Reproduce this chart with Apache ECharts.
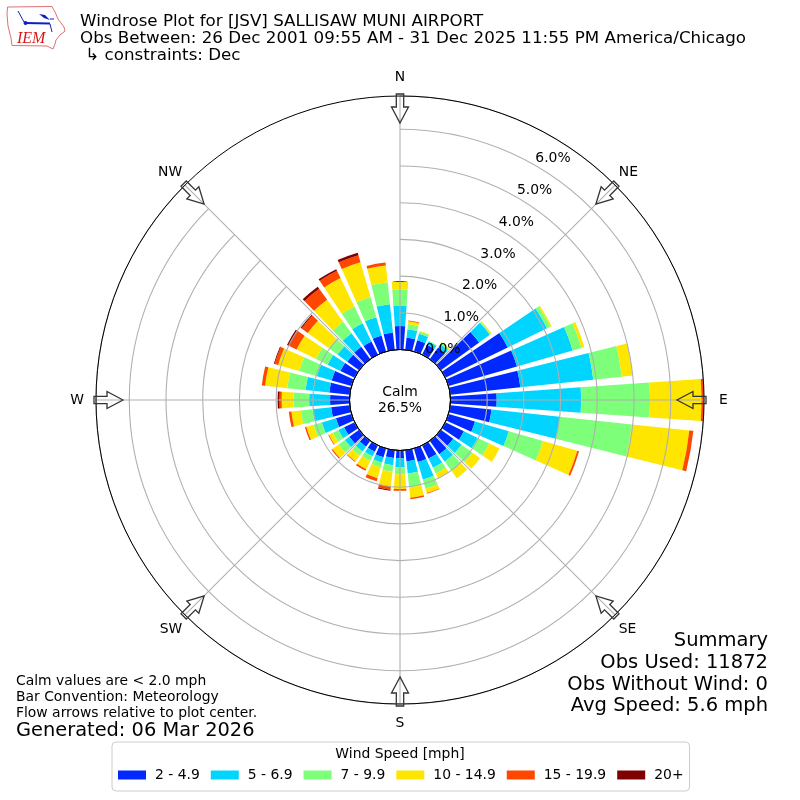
<!DOCTYPE html>
<html><head><meta charset="utf-8">
<style>html,body{margin:0;padding:0;background:#fff}#c{width:800px;height:800px}</style>
<script src="https://cdn.jsdelivr.net/npm/echarts@6/dist/echarts.min.js"></script>
</head><body><div id="c"></div>
<script>
// Bearings 0,10,...,350
const directions = ['0','10','20','30','40','50','60','70','80','90','100','110','120','130','140','150','160','170','180','190','200','210','220','230','240','250','260','270','280','290','300','310','320','330','340','350'];
const speed2to5   = [.64,.33,.32,.30,.39,1.29,1.89,1.94,1.92,1.26,1.13,.75,.56,.42,.45,.40,.38,.30,.21,.21,.25,.19,.20,.33,.32,.44,.51,.53,.56,.56,.43,.40,.42,.40,.45,.47];
const speed5to7   = [.55,.23,.18,.10,.11,.36,1.19,1.58,2.00,2.30,1.87,.96,.42,.28,.25,.28,.50,.34,.25,.20,.15,.14,.16,.15,.17,.40,.51,.57,.65,.42,.39,.33,.45,.55,.52,.78];
const speed7to10  = [.45,.14,.06,.02,.05,.03,.10,.25,.78,1.88,1.98,.97,.35,.37,.31,.17,.26,.38,.19,.18,.13,.14,.13,.21,.17,.24,.32,.43,.50,.50,.35,.30,.39,.51,.57,.60];
const speed10to15 = [.21,.08,.02,0,.02,.03,.04,.08,.30,1.40,1.57,.97,.31,.25,.25,.15,.12,.28,.40,.40,.31,.25,.20,.21,.12,.20,.26,.32,.61,.60,.59,.70,.74,.86,.99,.46];
const speed15to20 = [0,.02,0,0,0,0,0,0,0,.06,.11,.05,0,0,0,0,.02,.04,.05,.09,.09,.05,.02,.03,.02,.04,.07,.06,.09,.10,.22,.21,.37,.22,.20,.08];
const speed20plus = [0,0,0,0,0,0,0,0,0,.01,0,0,0,0,0,0,0,0,0,.03,0,0,0,0,0,0,0,.05,0,.02,.07,.03,.07,.05,.07,0];
const speedNames = ['2 - 4.9','5 - 6.9','7 - 9.9','10 - 14.9','15 - 19.9','20+'];
const speedColors = ['#0028ff','#00d4ff','#7dff7a','#ffe600','#ff4700','#7f0000'];
const compass = ['N','NE','E','SE','S','SW','W','NW'];
const compassPadding = [[0,0,8,0],[0,0,3,1],[0,0,0,11],[4.5,0,0,1],[8,0,0,0],[5,0,0,0],[0,8,0,0],[0,0,3,0]];
const radialMax = 6.907;
const titleLines = 'Windrose Plot for [JSV] SALLISAW MUNI AIRPORT\nObs Between: 26 Dec 2001 09:55 AM - 31 Dec 2025 11:55 PM America/Chicago\n \u21B3 constraints: Dec';
const summaryLines = 'Summary\nObs Used: 11872\nObs Without Wind: 0\nAvg Speed: 5.6 mph';
const noteLines = 'Calm values are < 2.0 mph\nBar Convention: Meteorology\nFlow arrows relative to plot center.';
const font = 'DejaVu Sans';
const speedSeries = [speed2to5,speed5to7,speed7to10,speed10to15,speed15to20,speed20plus];
const cx=400, cy=400, rIn=50.5, rOut=304;

function arrow(bearing){
  const a=bearing*Math.PI/180, ux=Math.sin(a), uy=-Math.cos(a), px=-uy, py=ux;
  const P=(r,s)=>[cx+ux*r+px*s, cy+uy*r+py*s];
  return {type:'polygon',z:30,shape:{points:[P(277,0),P(293,8.5),P(293,3.7),P(306,3.7),P(306,-3.7),P(293,-3.7),P(293,-8.5)]},
    style:{fill:'none',stroke:'#333',lineWidth:1.3}};
}
const logo = [
 {type:'polyline',z:30,shape:{points:[[7.5,7],[52,6.5],[55,12],[58,19],[64,27],[65,31],[60,35],[56,40],[55,44],[53,49],[47,46],[12,45.5],[11,38],[8,26],[7,14],[7.5,7]]},style:{fill:'#fff',stroke:'#e07070',lineWidth:1}},
 {type:'line',z:31,shape:{x1:25,y1:23,x2:50,y2:23.5},style:{stroke:'#1020c0',lineWidth:2}},
 {type:'line',z:31,shape:{x1:18,y1:11,x2:24,y2:22},style:{stroke:'#1020c0',lineWidth:1}},
 {type:'polygon',z:31,shape:{points:[[39,14],[45,15],[50,20],[44,18]]},style:{fill:'#1020c0'}},
 {type:'circle',z:31,shape:{cx:25.5,cy:23,r:2},style:{fill:'#1020c0'}},
 {type:'line',z:31,shape:{x1:50,y1:19,x2:54,y2:19},style:{stroke:'#1020c0',lineWidth:1}},
 {type:'line',z:31,shape:{x1:50,y1:24,x2:52,y2:32},style:{stroke:'#1020c0',lineWidth:1}},
 {type:'text',z:31,style:{x:17,y:31,text:'IEM',fill:'#d81818',font:'italic 16px "Liberation Serif"'}}
];
const option = {
  animation:false,
  backgroundColor:'#fff',
  title:[
    {text:titleLines,left:80,top:13,padding:0,textStyle:{fontFamily:font,fontSize:16.7,fontWeight:'normal',color:'#000',lineHeight:17}},
    {text:'Calm\n26.5%',left:400,top:384,padding:0,textAlign:'center',textStyle:{fontFamily:font,fontSize:13.9,fontWeight:'normal',color:'#000',lineHeight:16}},
    {text:summaryLines,left:768,top:630,padding:0,textAlign:'right',textStyle:{fontFamily:font,fontSize:19.5,fontWeight:'normal',color:'#000',lineHeight:21.8}},
    {text:noteLines,left:16,top:673,padding:0,textStyle:{fontFamily:font,fontSize:13.9,fontWeight:'normal',color:'#000',lineHeight:16}},
    {text:'Generated: 06 Mar 2026',left:16,top:721,padding:0,textStyle:{fontFamily:font,fontSize:19.4,fontWeight:'normal',color:'#000'}},
    {text:'Wind Speed [mph]',left:400,top:747,padding:0,textAlign:'center',textStyle:{fontFamily:font,fontSize:13.9,fontWeight:'normal',color:'#000'}}
  ],
  legend:{left:112,top:742,width:576,padding:[26,6,9,6],itemWidth:28,itemHeight:9,itemGap:11,icon:'rect',
    borderColor:'#ccc',borderWidth:1,borderRadius:4,backgroundColor:'#fff',
    textStyle:{fontFamily:font,fontSize:13.9,color:'#000',padding:[0,0,0,4]},data:speedNames},
  polar:[
    {center:[cx,cy],radius:[rIn,rOut]},
    {center:[cx,cy],radius:[rIn,rOut]},
    {center:[cx,cy],radius:[rIn,rOut]}
  ],
  angleAxis:[
    {polarIndex:0,type:'category',data:directions,startAngle:95,show:false},
    {polarIndex:1,type:'category',boundaryGap:false,startAngle:90,z:5,
      data:compass.map((c,i)=>({value:c,textStyle:{padding:compassPadding[i]}})),
      axisLine:{show:true,lineStyle:{color:'#000',width:1}},axisTick:{show:false},
      axisLabel:{show:true,margin:4,interval:0,fontFamily:font,fontSize:13.9,color:'#000'},
      splitLine:{show:true,lineStyle:{color:'#b0b0b0',width:1.1}}},
    {polarIndex:2,type:'value',min:0,max:360,startAngle:60,show:false}
  ],
  radiusAxis:[
    {polarIndex:0,type:'value',min:0,max:radialMax,show:false},
    {polarIndex:1,type:'value',min:0,max:radialMax,interval:1,z:5,
      axisLine:{show:false},axisTick:{show:false},axisLabel:{show:false},
      splitLine:{show:true,lineStyle:{color:'#b0b0b0',width:1.1}}},
    {polarIndex:2,type:'value',min:0,max:radialMax,interval:1,z:8,
      axisLine:{show:false},axisTick:{show:false},splitLine:{show:false},
      axisLabel:{show:true,showMaxLabel:false,margin:0,align:'left',verticalAlign:'bottom',padding:[0,0,0,0],
        fontFamily:font,fontSize:13.9,color:'#000',formatter:v=>v.toFixed(1)+'%'}}
  ],
  series:speedNames.map((n,i)=>({name:n,type:'bar',coordinateSystem:'polar',polarIndex:0,stack:'wind',
    barWidth:'80%',z:2,data:speedSeries[i],itemStyle:{color:speedColors[i]},emphasis:{disabled:true}})),
  graphic:[
    {type:'circle',z:20,shape:{cx:cx,cy:cy,r:rIn},style:{fill:'none',stroke:'#000',lineWidth:1}},
    ...[0,45,90,135,180,225,270,315].map(arrow),
    ...logo
  ]
};
const chart = echarts.init(document.getElementById('c'),null,{renderer:'canvas'});
chart.setOption(option);
</script></body></html>
